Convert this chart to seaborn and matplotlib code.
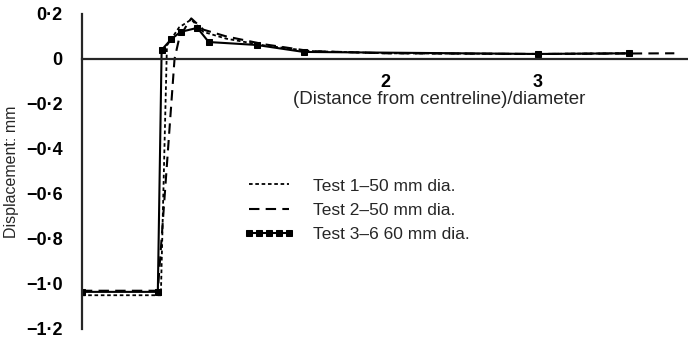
import matplotlib
matplotlib.use("Agg")
import matplotlib.pyplot as plt
import seaborn as sns
import pandas as pd
from matplotlib.ticker import FixedLocator, FuncFormatter

sns.set_style("white")
plt.rcParams['font.family'] = ['Liberation Sans', 'DejaVu Sans']

# Data
t1_x = [0.0, 0.52, 0.56, 0.64, 0.72, 0.80, 0.95, 1.2, 1.5, 2.0, 3.0, 3.6]
t1_y = [-1.05, -1.05, 0.06, 0.14, 0.175, 0.12, 0.09, 0.06, 0.035, 0.025, 0.022, 0.025]

t2_x = [0.0, 0.50, 0.61, 0.64, 0.69, 0.72, 0.80, 0.95, 1.2, 1.5, 2.0, 3.0, 3.9]
t2_y = [-1.03, -1.03, 0.0, 0.09, 0.15, 0.18, 0.13, 0.10, 0.065, 0.035, 0.025, 0.022, 0.025]

t3_x = [0.0, 0.50, 0.525, 0.59, 0.65, 0.76, 0.835, 1.15, 1.46, 3.0, 3.6]
t3_y = [-1.035, -1.035, 0.04, 0.089, 0.12, 0.138, 0.075, 0.062, 0.031, 0.022, 0.025]

labels = ["Test 1\u201350 mm dia.", "Test 2\u201350 mm dia.", "Test 3\u20136 60 mm dia."]
y_ticks = [0.2, 0.0, -0.2, -0.4, -0.6, -0.8, -1.0, -1.2]
x_ticks = [1, 2, 3]
x_tick_labels = ["", "2", "3"]

df1 = pd.DataFrame({"x": t1_x, "y": t1_y})
df2 = pd.DataFrame({"x": t2_x, "y": t2_y})
df3 = pd.DataFrame({"x": t3_x, "y": t3_y})

fig = plt.figure(figsize=(6.88, 3.39), dpi=100)
ax = fig.add_axes([0.119, 0.0295, 0.881, 0.9295])

sns.lineplot(data=df1, x="x", y="y", ax=ax, sort=False, color="black",
             lw=1.3, linestyle=(0, (2, 1.5)), label=labels[0])
sns.lineplot(data=df2, x="x", y="y", ax=ax, sort=False, color="black",
             lw=1.5, linestyle=(0, (5, 3)), label=labels[1])
sns.lineplot(data=df3, x="x", y="y", ax=ax, sort=False, color="black",
             lw=1.5, marker="s", markersize=5, markeredgecolor="black",
             label=labels[2])

ax.set_xlim(0, 3.99)
ax.set_ylim(-1.2, 0.2)

for s in ["top", "right"]:
    ax.spines[s].set_visible(False)
ax.spines["bottom"].set_position(("data", 0))
ax.spines["bottom"].set_linewidth(1.6)
ax.spines["left"].set_linewidth(1.6)
ax.spines["left"].set_bounds(-1.2, 0.2)

ax.yaxis.set_major_locator(FixedLocator(y_ticks))

def yfmt(v, pos):
    if abs(v) < 1e-9:
        return "0"
    s = f"{abs(v):.1f}".replace(".", "\u00b7")
    return ("\u2212" + s) if v < 0 else s

ax.yaxis.set_major_formatter(FuncFormatter(yfmt))
ax.set_xticks(x_ticks)
ax.set_xticklabels(x_tick_labels)
ax.tick_params(axis="both", direction="out", length=7, width=1.5,
               labelsize=13, color="black", labelcolor="black")
ax.tick_params(axis="x", pad=4)
ax.tick_params(axis="y", pad=7)
for t in ax.get_yticklabels() + ax.get_xticklabels():
    t.set_fontweight("bold")

ax.set_xlabel("")
ax.set_ylabel("Displacement: mm", fontsize=11.5)
ax.yaxis.set_label_coords(-0.104, 0.5)
ax.text(2.35, -0.18, "(Distance from centreline)/diameter", fontsize=13.5,
        ha="center", va="center")

leg = ax.legend(loc="upper left", bbox_to_anchor=(0.255, 0.50), frameon=False,
                fontsize=12.5, handlelength=2.9, handletextpad=1.1,
                labelspacing=0.52, numpoints=5, borderaxespad=0)
for h in leg.legend_handles:
    h.set_markersize(4.5)

fig.savefig("out.png", dpi=100)
